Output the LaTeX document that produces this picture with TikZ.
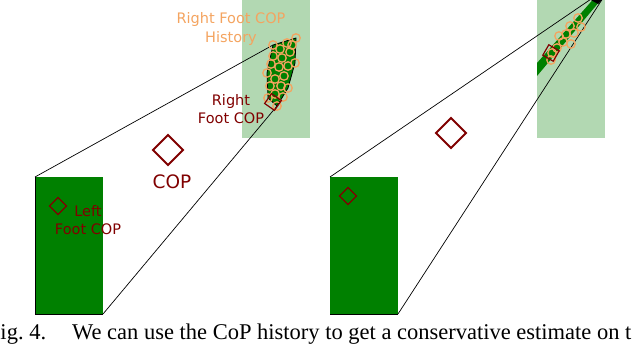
\documentclass[tikz,border=0pt]{standalone}
\usepackage{fontspec}
\usepackage{tikz}
\usetikzlibrary{shapes.geometric}
\newfontfamily\plotfont{DejaVu Sans}
\newfontfamily\capfont{Liberation Serif}
\definecolor{footgreen}{RGB}{0,128,0}
\definecolor{footshade}{RGB}{178,216,178}
\definecolor{copred}{RGB}{128,0,0}
\definecolor{historange}{RGB}{244,164,96}

\begin{document}
\begin{tikzpicture}[
    x=1pt, y=-1pt,
    every node/.style={inner sep=0pt, outer sep=0pt},
    stance/.style={fill=footgreen, minimum width=68pt, minimum height=137pt, anchor=north west},
    swing/.style={fill=footshade, minimum width=68pt, minimum height=138pt, anchor=north west},
    hull/.style={fill=footgreen, draw=black, line width=0.8pt, line join=round},
    hist/.style={circle, draw=historange, line width=1.3pt, minimum size=8.5pt},
    cop/.style={diamond, draw=copred, line width=1.2pt, minimum width=17pt, minimum height=17pt},
    bigcop/.style={cop, line width=1.8pt, minimum width=30pt, minimum height=30pt},
    lbl/.style={font=\plotfont\fontsize{14.5}{18.5}\selectfont, text=copred, align=center},
    proj/.style={draw=black, line width=0.7pt}
  ]
  \useasboundingbox (0,0) rectangle (640,345);
  \clip (0,0) rectangle (640,345);

  \node[swing] (rfootA) at (242,0) {};
  \node[stance] (lfootA) at (35,177) {};
  \draw[black, line width=0.6pt] (lfootA.north west) -- (lfootA.south west) -- (lfootA.south east);

  \coordinate (hA1) at (273,45);
  \coordinate (hA2) at (296,38);
  \coordinate (hA3) at (295,63);
  \coordinate (hA4) at (288,88);
  \coordinate (hA5) at (277,106);
  \coordinate (hA6) at (268,98);
  \coordinate (hA7) at (267,73);
  \draw[proj] (lfootA.north west) -- (hA1);
  \draw[proj] (lfootA.south east) -- (hA5);
  \draw[hull] (hA1) -- (hA2) -- (hA3) -- (hA4) -- (hA5) -- (hA6) -- (hA7) -- cycle;
  \foreach \cx/\cy [count=\i] in {273/45, 296/38, 295/63, 288/88, 277/106, 268/98, 267/73,
      287/43, 280/49, 290/52, 282/58, 273/56, 288/66, 279/67, 271/64, 284/76,
      275/79, 270/86, 281/86, 275/94, 283/97, 292/45}
    \node[hist] (histA\i) at (\cx,\cy) {};
  \node[cop, rotate=10] (rcopA) at (273,102) {};
  \node[cop] (lcopA) at (58,206) {};
  \node[bigcop] (copA) at (168,150) {};

  \node[lbl, text=historange] (histlbl) at (231,29) {Right Foot COP\\History};
  \node[lbl] (rcoplbl) at (231,109) {Right\\Foot COP};
  \node[lbl] (lcoplbl) at (88,220) {Left\\Foot COP};
  \node[lbl, font=\plotfont\fontsize{18.5}{20}\selectfont] (coplbl) at (172,182) {COP};

  \node[swing] (rfootB) at (537,0) {};
  \node[stance] (lfootB) at (330,177) {};
  \draw[black, line width=0.6pt] (lfootB.south west) -- (lfootB.south east);

  \coordinate (hB1) at (537,63);
  \coordinate (hB2) at (597,-5);
  \coordinate (hB3) at (605,-5);
  \coordinate (hB4) at (537,76);
  \fill[footgreen] (hB1) -- (hB2) -- (hB3) -- (hB4) -- cycle;
  \fill[black] (589,-1) -- (603,-1) -- (598,4) -- cycle;
  \draw[proj] (lfootB.north west) -- (hB2);
  \draw[proj] (lfootB.south east) -- (hB3);
  \foreach \cx/\cy [count=\i] in {578/18, 581/27, 570/26, 574/33, 566/34, 559/36,
      563/42, 571/44, 557/48, 552/53, 551/60}
    \node[hist] (histB\i) at (\cx,\cy) {};
  \node[cop, rotate=15] (rcopB) at (551,53) {};
  \node[cop] (lcopB) at (348,196) {};
  \node[bigcop] (copB) at (451,133) {};

  \node[anchor=base west, font=\capfont\fontsize{22.5}{26}\selectfont] (caption) at (0.5,339)
    {ig.~4.\hspace{26pt}We can use the CoP history to get a conservative estimate on t};
\end{tikzpicture}
\end{document}
